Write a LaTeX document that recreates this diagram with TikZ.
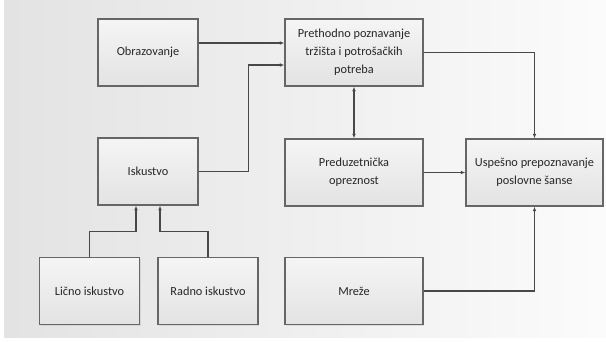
\documentclass[tikz,border=0pt]{standalone}
\usepackage{fontspec}
\setmainfont{Carlito}
\usepackage{xcolor}
\usetikzlibrary{arrows.meta, shadows}

\definecolor{boxline}{HTML}{666666}
\definecolor{wire}{HTML}{484848}
\definecolor{txt}{HTML}{262626}

\begin{document}
\begin{tikzpicture}[x=1pt, y=-1pt,
    box/.style={draw=boxline, line width=1.4pt, top color=gray!8, bottom color=gray!22,
        drop shadow={shadow xshift=1pt, shadow yshift=-1pt, fill=gray!45},
        minimum height=67pt, inner sep=2pt, align=center, text=txt,
        font=\fontsize{12.3}{18}\selectfont},
    wide/.style={box, minimum width=138pt},
    narrow/.style={box, minimum width=100pt},
    arr/.style={draw=wire, line width=1.1pt, -{Latex[length=4.5pt,width=3.8pt]}}]
\useasboundingbox (0,0) rectangle (606,341);
\shade[left color=gray!22, right color=gray!3] (4,0) rectangle (606,337);
% left column
\node[narrow] (obr) at (148,52.5) {Obrazovanje};
\node[narrow] (isk) at (148,171.5) {Iskustvo};
\foreach \n/\x/\lab in {lic/89.5/Lično iskustvo, rad/208/Radno iskustvo} {
    \node[narrow] (\n) at (\x,291) {\lab};
}
% middle column
\node[wide] (pre) at (354,52.5) {Prethodno poznavanje\\tržišta i potrošačkih\\potreba};
\node[wide] (pred) at (354,172.5) {Preduzetnička\\opreznost};
\node[wide] (mre) at (354,291) {Mreže};
% right column
\node[box, minimum width=137pt] (usp) at (534.5,172.5) {Uspešno prepoznavanje\\poslovne šanse};
% connectors
\draw[arr] ([yshift=9.5pt]obr.east) -- ([yshift=9.5pt]pre.west);
\draw[arr] (isk.east) -- ++(50,0) |- ([yshift=-12.5pt]pre.west);
\draw[arr] (lic.north) -- ++(0,-25) -| ([xshift=-12pt]isk.south);
\draw[arr] (rad.north) -- ++(0,-25) -| ([xshift=12pt]isk.south);
\draw[arr, {Latex[length=4.5pt,width=3.8pt]}-{Latex[length=4.5pt,width=3.8pt]}] (pre.south) -- (pred.north);
\draw[arr] (pre.east) -| (usp.north);
\draw[arr] (pred.east) -- (usp.west);
\draw[arr] (mre.east) -| (usp.south);
\end{tikzpicture}
\end{document}
